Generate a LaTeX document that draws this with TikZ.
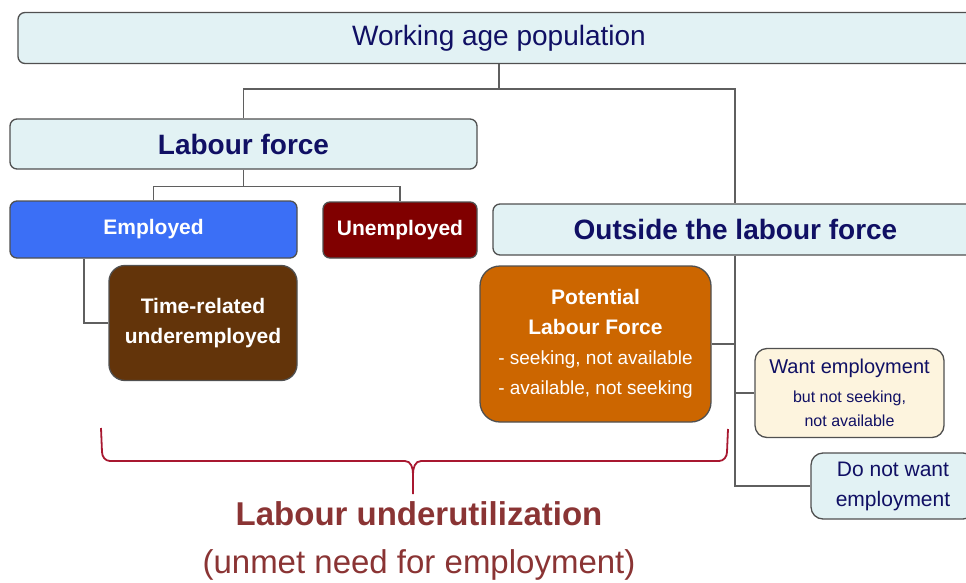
\documentclass[tikz,border=0pt]{standalone}
\usepackage{fontspec}
\setmainfont{Liberation Sans}
\usepackage{tikz}
\definecolor{paleblue}{RGB}{226,242,244}
\definecolor{navy}{RGB}{16,16,100}
\definecolor{empblue}{RGB}{59,111,246}
\definecolor{unempred}{RGB}{128,0,0}
\definecolor{trubrown}{RGB}{99,52,10}
\definecolor{plforange}{RGB}{204,102,0}
\definecolor{cream}{RGB}{253,244,222}
\definecolor{boxline}{RGB}{80,80,80}
\definecolor{wireline}{RGB}{95,95,95}
\definecolor{bracered}{RGB}{168,24,48}
\definecolor{underred}{RGB}{138,52,52}
\newcommand{\plfline}[1]{{\mdseries\fontsize{19}{30}\selectfont #1}}
\newcommand{\wantline}[1]{{\fontsize{16}{24}\selectfont #1}}

\begin{document}
\begin{tikzpicture}[x=1pt,y=-1pt,
    box/.style={draw=boxline,line width=1.3pt,rounded corners=7pt,inner sep=0pt,align=center},
    pale/.style={box,fill=paleblue,text=navy},
    dark/.style={box,fill=#1,text=white,font=\bfseries\fontsize{21}{30}\selectfont},
    wire/.style={draw=wireline,line width=1.2pt},
    brace/.style={draw=bracered,line width=1.8pt}]
\useasboundingbox (0,0) rectangle (966,583);
\draw
    node at (499,38)[pale,minimum width=962,minimum height=51,name=wap,font=\fontsize{28}{32}\selectfont]{Working age population}
    node at (243.5,144)[pale,minimum width=467,minimum height=50,name=lf,font=\bfseries\fontsize{28}{32}\selectfont]{Labour force}
    node at (735.5,229.5)[pale,minimum width=485,minimum height=51,name=olf,font=\bfseries\fontsize{28}{32}\selectfont]{Outside the labour force}

    node at (153.5,229.5)[dark=empblue,minimum width=287,minimum height=57,name=emp]{Employed}
    node at (400,230)[dark=unempred,minimum width=154,minimum height=56,name=unemp]{Unemployed}
    node at (203,323)[dark=trubrown,rounded corners=16pt,minimum width=188,minimum height=115,name=tru]{Time-related\\underemployed}
    node at (595.5,344)[dark=plforange,rounded corners=20pt,minimum width=231,minimum height=156,name=plf]{Potential\\Labour Force\\\plfline{- seeking, not available}\\\plfline{- available, not seeking}}

    node at (849.5,393)[box,fill=cream,text=navy,rounded corners=12pt,minimum width=189,minimum height=89,name=want,font=\fontsize{20}{24}\selectfont]{Want employment\\[5pt]\wantline{but not seeking,}\\\wantline{not available}}
    node at (893,486)[pale,rounded corners=12pt,minimum width=164,minimum height=66,name=dnw,font=\fontsize{21}{30}\selectfont]{Do not want\\employment}

    node at (419,541)[align=center,text=underred,name=under,font=\fontsize{33}{48}\selectfont]{\textbf{Labour underutilization}\\(unmet need for employment)}
;

    \coordinate (split) at (499,89);
    \coordinate (trunk) at (735,89);
    \draw[wire](wap.south) -- (split) -| (lf.north);
    \draw[wire](split) -- (trunk) -- (olf.north -| trunk);
    \draw[wire](olf.south -| trunk) |- (dnw.west);
    \draw[wire](olf.south -| trunk) |- (plf.east);
    \draw[wire](olf.south -| trunk) |- (want.west);

    \draw[wire](lf.south) -- ++(0,17) coordinate (lfsplit) -| (emp.north);
    \draw[wire](lfsplit) -| (unemp.north);
    \draw[wire](emp.south -| 84,0) |- (tru.west);

    % bracket under the underutilized groups
    \draw[brace](101,428) -- (102,452) to[out=-90,in=180] (110,461) -- (405,461) to[out=0,in=90] (413,474) -- (413,494);
    \draw[brace](413,474) to[out=90,in=180] (421,461) -- (719,461) to[out=0,in=-90] (727,452) -- (728,429);
\end{tikzpicture}
\end{document}
